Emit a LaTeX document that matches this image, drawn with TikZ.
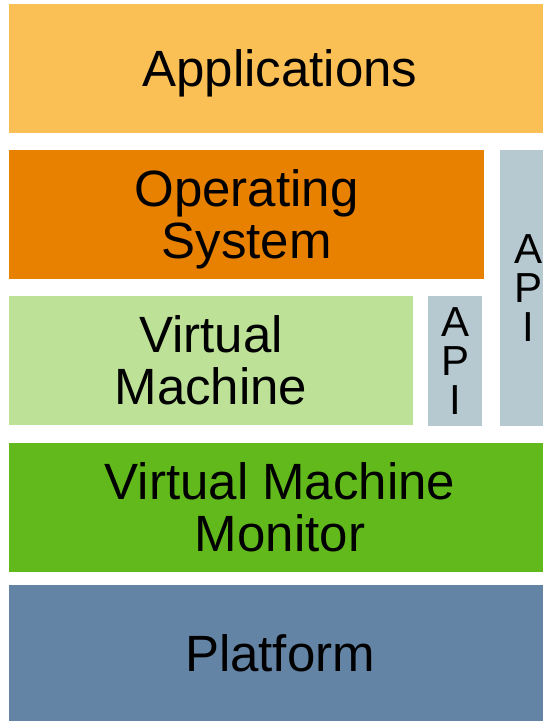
\documentclass[tikz,border=0pt]{standalone}
\usepackage{fontspec}
\setmainfont{Liberation Sans}
\definecolor{appc}{HTML}{FAC056}
\definecolor{osc}{HTML}{E88000}
\definecolor{apic}{HTML}{B6C9D0}
\definecolor{vmc}{HTML}{BDE197}
\definecolor{vmmc}{HTML}{62B91C}
\definecolor{platc}{HTML}{6384A5}
\begin{document}
\begin{tikzpicture}[x=1pt,y=-1pt,
  layer/.style={inner sep=0pt, outer sep=0pt, anchor=north west, align=center,
    text depth=0pt, font=\fontsize{51}{52}\selectfont, text=black},
  apibox/.style={inner sep=0pt, outer sep=0pt, anchor=north west, align=center,
    fill=apic, font=\fontsize{42}{39}\selectfont, text=black}]
\useasboundingbox (0,0) rectangle (542,722);
\fill[white] (0,0) rectangle (542,722);
\node[layer, fill=appc, minimum width=542pt, minimum height=129pt] (app) at (9,4) {Applications};
\node[layer, fill=osc, minimum width=475pt, minimum height=129pt] (os) at (9,150) {Operating\\System};
\node[apibox, minimum width=56pt, minimum height=276pt] (apibig) at (500,150) {A\\P\\I};
\node[layer, fill=vmc, minimum width=404pt, minimum height=129pt] (vm) at (9,296) {Virtual\\Machine};
\node[apibox, minimum width=54pt, minimum height=130pt] (apismall) at (428,296) {A\\P\\I};
\node[layer, fill=vmmc, minimum width=542pt, minimum height=129pt] (vmm) at (9,443) {Virtual Machine\\Monitor};
\node[layer, fill=platc, minimum width=542pt, minimum height=136pt] (plat) at (9,585) {Platform};
\end{tikzpicture}
\end{document}
